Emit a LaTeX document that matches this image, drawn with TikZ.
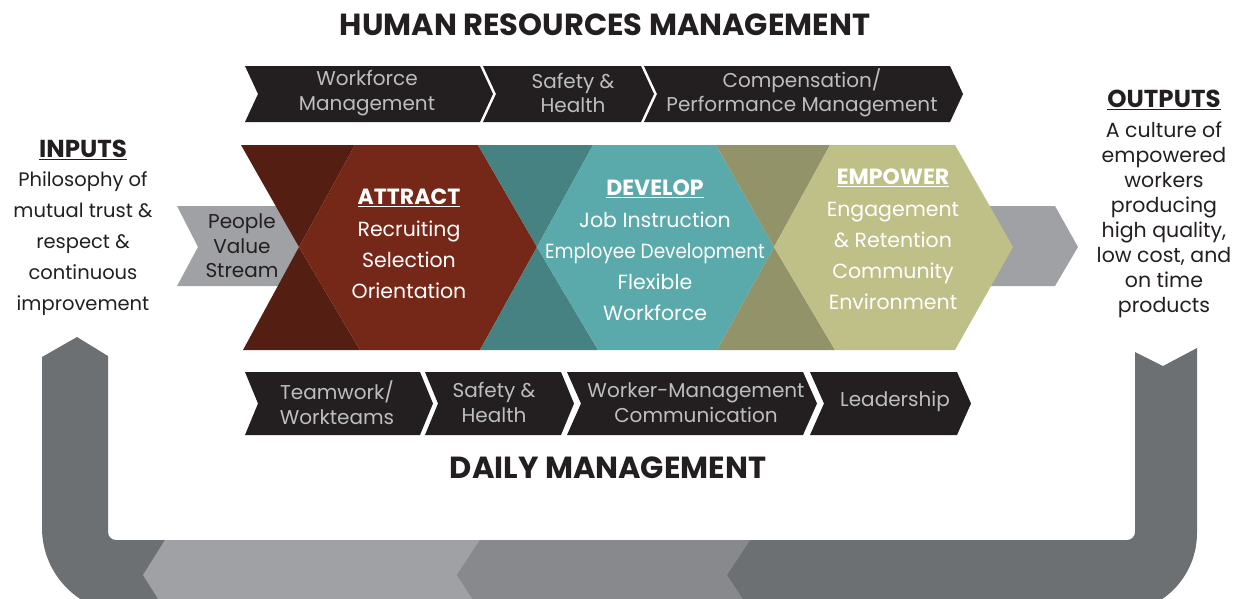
\documentclass[tikz,border=0pt]{standalone}
\usepackage{fontspec}
\setmainfont{Poppins}
\definecolor{ink}{HTML}{231F20}
\definecolor{chevblack}{HTML}{231F20}
\definecolor{chevtxt}{HTML}{BCBEC0}
\definecolor{darkbrown}{HTML}{541E12}
\definecolor{brown}{HTML}{762818}
\definecolor{darkteal}{HTML}{478282}
\definecolor{teal}{HTML}{5AAAAC}
\definecolor{darkolive}{HTML}{939369}
\definecolor{olive}{HTML}{BFBF88}
\definecolor{arrowgray}{HTML}{A0A1A5}
\definecolor{loopdark}{HTML}{6D7073}
\definecolor{looplight}{HTML}{A0A1A5}
\definecolor{loopmid}{HTML}{88898D}
\newcommand\mychev[5]{%
  \fill[chevblack] (#1,#3) -- (#2,#3) -- ({#2+#5},{(#3+#4)/2}) -- (#2,#4) -- (#1,#4) -- ({#1+#5},{(#3+#4)/2}) -- cycle;}
\begin{document}
\begin{tikzpicture}[x=1pt,y=-1pt,
  every node/.style={inner sep=0pt, outer sep=0pt},
  title/.style={text=ink, font=\fontsize{30.5}{32}\selectfont\bfseries},
  chevtext/.style={text=chevtxt, align=center, font=\fontsize{20}{24.5}\selectfont},
  hexhead/.style={text=white, font=\fontsize{22}{24}\selectfont\bfseries},
  hextext/.style={text=white, align=center, font=\fontsize{20.5}{31}\selectfont},
  pvs/.style={text=ink, align=center, font=\fontsize{20}{24.5}\selectfont},
  sidehead/.style={text=ink, font=\fontsize{24.5}{26}\selectfont\bfseries},
  inptext/.style={text=ink, align=center, font=\fontsize{19.5}{31}\selectfont},
  outtext/.style={text=ink, align=center, font=\fontsize{20.5}{25}\selectfont}]
\useasboundingbox (0,0) rectangle (1234,598);

% ---------- bottom loop ----------
\begin{scope}
\clip (0,0) rectangle (1234,598);
\fill[loopdark] (42,357) -- (77,337) -- (108,356) -- (108,532)
  .. controls (108,536.4) and (111.6,540) .. (116,540) -- (1127,540)
  .. controls (1131.4,540) and (1135,536.4) .. (1135,532) -- (1135,352)
  -- (1163,366) -- (1197,348) -- (1197,533)
  .. controls (1197,577.2) and (1161.2,613) .. (1117,613) -- (127,613)
  .. controls (80.1,613) and (42,574.9) .. (42,528) -- cycle;
\fill[looplight] (165,540) -- (143,575) -- (165,610) -- (480,610) -- (457,575) -- (480,540) -- cycle;
\fill[loopmid] (480,540) -- (457,575) -- (480,610) -- (750,610) -- (727,575) -- (750,540) -- cycle;
\end{scope}

% ---------- titles ----------
\node[title] (hrm) at (605,25) {HUMAN RESOURCES MANAGEMENT};
\node[title] (dm) at (608,468) {DAILY MANAGEMENT};

% ---------- top chevrons ----------
\mychev{245}{480}{66}{122}{13}
\mychev{483}{641}{66}{122}{13}
\mychev{644}{950}{66}{122}{13}
\node[chevtext] (t1) at (367,93) {Workforce\\Management};
\node[chevtext] (t2) at (573,93) {Safety \&\\Health};
\node[chevtext] (t3) at (802,93) {Compensation/\\Performance Management};

% ---------- bottom chevrons ----------
\mychev{245}{420}{372}{435}{13}
\mychev{425}{561}{372}{435}{13}
\mychev{567}{803}{372}{435}{14}
\mychev{810}{957}{372}{435}{14}
\node[chevtext] (b1) at (337,402.5) {Teamwork/\\Workteams};
\node[chevtext] (b2) at (494,402.5) {Safety \&\\Health};
\node[chevtext] (b3) at (696,402.5) {Worker-Management\\Communication};
\node[chevtext] (b4) at (895,401) {Leadership};

% ---------- middle band ----------
\fill[arrowgray] (177,206) -- (285,206) -- (299,247) -- (285,286) -- (177,286) -- (198,247) -- cycle;
\fill[arrowgray] (960,206) -- (1055,206) -- (1078,247) -- (1055,286) -- (960,286) -- cycle;
\fill[darkbrown] (241,145) -- (355,145) -- (299,247) -- cycle;
\fill[darkbrown] (243,350) -- (360,350) -- (299,247) -- cycle;
\fill[brown] (299,247) -- (355,145) -- (478,145) -- (537,247) -- (480,350) -- (360,350) -- cycle;
\fill[darkteal] (478,145) -- (593,145) -- (537,247) -- cycle;
\fill[darkteal] (480,350) -- (598,350) -- (537,247) -- cycle;
\fill[teal] (537,247) -- (593,145) -- (716,145) -- (774,247) -- (717,350) -- (598,350) -- cycle;
\fill[darkolive] (716,145) -- (830,145) -- (774,247) -- cycle;
\fill[darkolive] (717,350) -- (835,350) -- (774,247) -- cycle;
\fill[olive] (774,247) -- (830,145) -- (955,145) -- (1013,247) -- (955,350) -- (835,350) -- cycle;

\node[pvs] (pvs) at (242,246) {People\\Value\\Stream};

\node[hexhead] (att) at (409,198) {\underline{ATTRACT}};
\node[hextext] (attx) at (409,260) {Recruiting\\Selection\\Orientation};
\node[hexhead] (dev) at (655,189) {\underline{DEVELOP}};
\node[hextext] (devx) at (655,266.5) {Job Instruction\\\scalebox{0.9}[1]{Employee Development}\\Flexible\\Workforce};
\node[hexhead] (emp) at (893,178) {\underline{EMPOWER}};
\node[hextext] (empx) at (893,255.5) {Engagement\\\& Retention\\Community\\Environment};

% ---------- inputs / outputs ----------
\node[sidehead] (inp) at (83,150) {\underline{INPUTS}};
\node[inptext] (inpx) at (83,244) {Philosophy of\\mutual trust \&\\respect \&\\continuous\\improvement};
\node[sidehead] (out) at (1164,100) {\underline{OUTPUTS}};
\node[outtext] (outx) at (1164,219.5) {A culture of\\empowered\\workers\\producing\\high quality,\\low cost, and\\on time\\products};
\end{tikzpicture}
\end{document}
